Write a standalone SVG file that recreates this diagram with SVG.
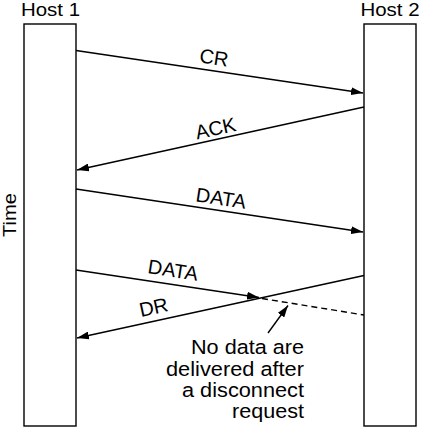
<svg xmlns="http://www.w3.org/2000/svg" width="431" height="433" viewBox="0 0 431 433">
<style>
text{font-family:"Liberation Sans",Arial,sans-serif;font-size:20px;fill:#000}
.box{fill:#fff;stroke:#000;stroke-width:1.4}
.ln{stroke:#000;stroke-width:1.4;fill:none}
.dash{stroke:#000;stroke-width:1.4;fill:none;stroke-dasharray:6 4}
.note{font-size:20.5px}
.host{font-size:17.5px}
</style>
<defs>
<marker id="ah" viewBox="0 0 12 8" refX="12" refY="4" markerWidth="12" markerHeight="8" markerUnits="userSpaceOnUse" orient="auto">
<path d="M0,0 L12,4 L0,8 Z" fill="#000"/>
</marker>
</defs>
<rect width="431" height="433" fill="#fff"/>
<g id="host1">
<rect class="box" x="24" y="24" width="52" height="402"/>
<text class="host" x="21" y="16" textLength="59" lengthAdjust="spacingAndGlyphs">Host 1</text>
</g>
<g id="host2">
<rect class="box" x="364" y="24" width="52" height="402"/>
<text class="host" x="360.5" y="16" textLength="59" lengthAdjust="spacingAndGlyphs">Host 2</text>
</g>
<g id="time">
<text class="host" transform="translate(16,215) rotate(-90)" x="-22" textLength="44" lengthAdjust="spacingAndGlyphs">Time</text>
</g>
<g id="connectors">
<line class="ln" x1="76" y1="50.5" x2="363" y2="93" marker-end="url(#ah)"/>
<line class="ln" x1="364" y1="107" x2="77" y2="170" marker-end="url(#ah)"/>
<line class="ln" x1="76" y1="189" x2="363" y2="232" marker-end="url(#ah)"/>
<line class="ln" x1="76" y1="270" x2="259" y2="297.5" marker-end="url(#ah)"/>
<line class="dash" x1="262" y1="298.5" x2="364" y2="315"/>
<line class="ln" x1="364" y1="275.5" x2="77" y2="338" marker-end="url(#ah)"/>
<line class="ln" x1="268" y1="333" x2="288" y2="305.5" marker-end="url(#ah)"/>
</g>
<g id="labels">
<text transform="translate(213,64.5) rotate(8.5)" text-anchor="middle">CR</text>
<text transform="translate(217,135) rotate(-12.4)" text-anchor="middle">ACK</text>
<text transform="translate(220,205) rotate(8.6)" text-anchor="middle">DATA</text>
<text transform="translate(172,277) rotate(8.9)" text-anchor="middle">DATA</text>
<text transform="translate(155,314) rotate(-12.3)" text-anchor="middle">DR</text>
</g>
<g id="note">
<text class="note" x="191" y="354" textLength="113" lengthAdjust="spacingAndGlyphs">No data are</text>
<text class="note" x="166" y="376" textLength="138" lengthAdjust="spacingAndGlyphs">delivered after</text>
<text class="note" x="182" y="397" textLength="122" lengthAdjust="spacingAndGlyphs">a disconnect</text>
<text class="note" x="232" y="418" textLength="72" lengthAdjust="spacingAndGlyphs">request</text>
</g>
</svg>
